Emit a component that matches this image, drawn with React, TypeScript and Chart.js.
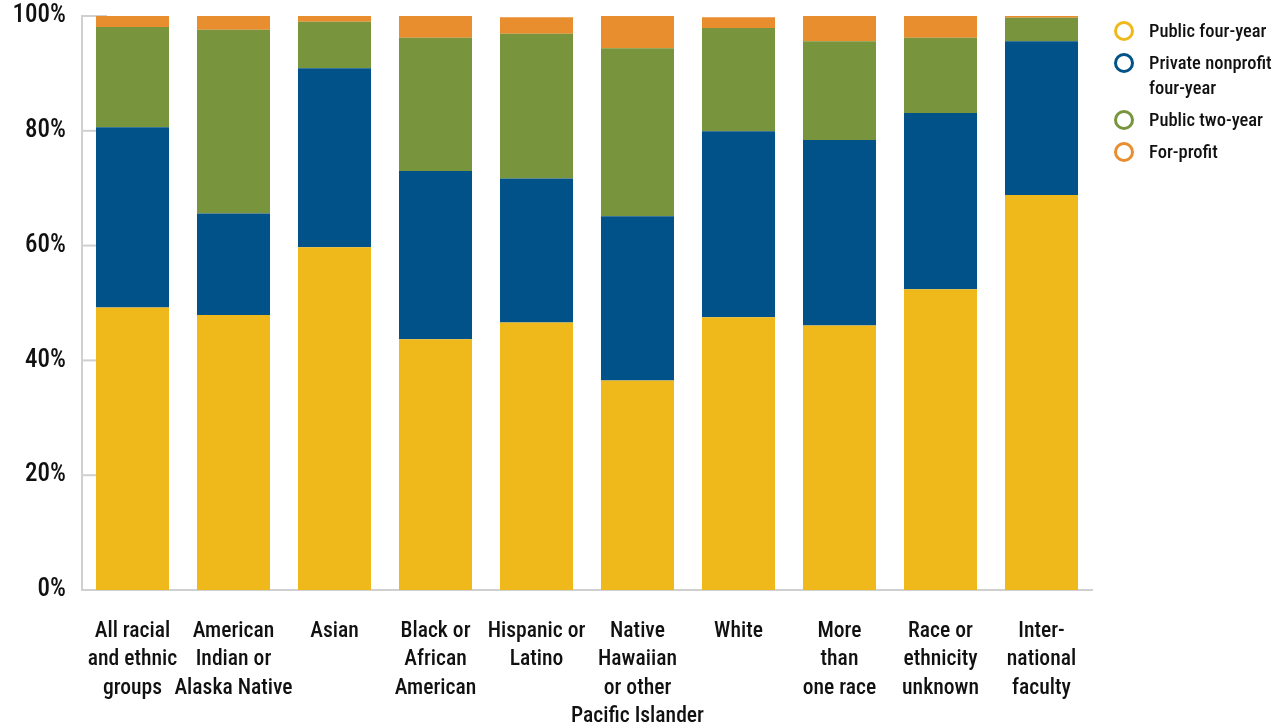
import React, { useEffect, useRef } from "react";
import { Chart, registerables } from "chart.js";

Chart.register(...registerables);

const categories: string[][] = [
  ["All racial", "and ethnic", "groups"],
  ["American", "Indian or", "Alaska Native"],
  ["Asian"],
  ["Black or", "African", "American"],
  ["Hispanic or", "Latino"],
  ["Native", "Hawaiian", "or other", "Pacific Islander"],
  ["White"],
  ["More", "than", "one race"],
  ["Race or", "ethnicity", "unknown"],
  ["Inter-", "national", "faculty"],
];

const publicFourYear = [49.2, 47.9, 59.7, 43.7, 46.6, 36.5, 47.5, 46.1, 52.4, 68.8];
const privateNonprofit = [31.4, 17.7, 31.2, 29.3, 25.1, 28.6, 32.4, 32.3, 30.7, 26.8];
const publicTwoYear = [17.5, 32.0, 8.1, 23.2, 25.2, 29.3, 18.0, 17.2, 13.1, 4.1];
const forProfit = [1.9, 2.4, 1.0, 3.8, 2.9, 5.6, 1.9, 4.4, 3.8, 0.3];

const seriesNames = ["Public four-year", "Private nonprofit four-year", "Public two-year", "For-profit"];
const legendLines: string[][] = [["Public four-year"], ["Private nonprofit", "four-year"], ["Public two-year"], ["For-profit"]];
const seriesColors = ["#F0B91B", "#005288", "#78953D", "#E88E2E"];

const FONT = "'Roboto Condensed', 'Liberation Sans Narrow', 'DejaVu Sans Condensed', Roboto, 'Noto Sans', sans-serif";
const AXIS_GRAY = "#d0d0d0";

const innerTicks = {
  id: "innerTicks",
  beforeDatasetsDraw(chart: any) {
    const { ctx, chartArea, scales } = chart;
    const y = scales.y;
    ctx.save();
    ctx.strokeStyle = AXIS_GRAY;
    ctx.lineWidth = 2;
    y.ticks.forEach((t: any) => {
      const py = y.getPixelForValue(t.value);
      ctx.beginPath();
      ctx.moveTo(chartArea.left, py);
      ctx.lineTo(chartArea.left + 25, py);
      ctx.stroke();
    });
    ctx.restore();
  },
};

export default function App() {
  const canvasRef = useRef<HTMLCanvasElement | null>(null);

  useEffect(() => {
    if (!canvasRef.current) return;
    const values = [publicFourYear, privateNonprofit, publicTwoYear, forProfit];
    const chart = new Chart(canvasRef.current, {
      type: "bar",
      data: {
        labels: categories,
        datasets: values.map((v, i) => ({
          label: seriesNames[i],
          data: v,
          backgroundColor: seriesColors[i],
          borderWidth: 0,
          barPercentage: 0.723,
          categoryPercentage: 1,
        })),
      },
      options: {
        animation: false,
        responsive: false,
        layout: { padding: { top: 16, right: 188, bottom: 0, left: 0 } },
        plugins: {
          legend: { display: false },
          tooltip: { enabled: false },
        },
        scales: {
          x: {
            stacked: true,
            grid: { display: false },
            border: { display: true, color: AXIS_GRAY, width: 2 },
            ticks: {
              color: "#111",
              font: { family: FONT, size: 21.6, weight: 500, lineHeight: 1.32 },
              maxRotation: 0,
              minRotation: 0,
              autoSkip: false,
              padding: 19,
            },
            afterFit: (scale: any) => {
              scale.height = 137;
              scale.paddingLeft = 0;
              scale.paddingRight = 0;
            },
          },
          y: {
            stacked: true,
            min: 0,
            max: 100,
            grid: { display: false, drawTicks: false },
            border: { display: true, color: AXIS_GRAY, width: 2 },
            ticks: {
              stepSize: 20,
              color: "#111",
              font: { family: FONT, size: 25, weight: 500 },
              padding: 16,
              callback: (v: any) => v + "%",
            },
            afterFit: (scale: any) => {
              scale.width = 82;
              scale.paddingTop = 0;
              scale.paddingBottom = 0;
            },
          },
        },
      },
      plugins: [innerTicks],
    });
    return () => chart.destroy();
  }, []);

  return (
    <div style={{ position: "fixed", left: 0, top: 0, width: 1280, height: 727, background: "#fff" }}>
      <canvas ref={canvasRef} width={1280} height={727} style={{ width: 1280, height: 727, display: "block" }} />
      <div style={{ position: "absolute", left: 1114, top: 19, fontFamily: FONT, fontSize: 18.5, fontWeight: 500, color: "#111", lineHeight: "25px" }}>
        {legendLines.map((lines, i) => (
          <div key={i} style={{ display: "flex", alignItems: "flex-start", marginBottom: 7 }}>
            <span
              style={{
                width: 14,
                height: 14,
                borderRadius: "50%",
                border: `3.5px solid ${seriesColors[i]}`,
                display: "inline-block",
                marginTop: 2,
                marginRight: 15,
                flexShrink: 0,
              }}
            />
            <span>
              {lines.map((l, j) => (
                <div key={j}>{l}</div>
              ))}
            </span>
          </div>
        ))}
      </div>
    </div>
  );
}
